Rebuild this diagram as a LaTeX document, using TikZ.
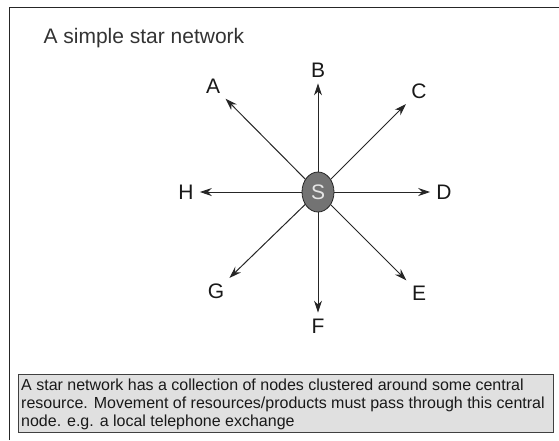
\documentclass[tikz,border=0pt]{standalone}
\usepackage{fontspec}
\setmainfont{Liberation Sans}
\usetikzlibrary{arrows.meta, positioning, shapes.geometric}
\colorlet{FrameLine}{black!85}
\colorlet{HubFill}{black!55}
\colorlet{HubLine}{black!85}
\colorlet{ArrowLine}{black!85}
\colorlet{NoteFill}{black!12}
\colorlet{NoteLine}{black!75}

\begin{document}
\begin{tikzpicture}[
    x=1pt, y=-1pt,
    hub/.style={ellipse, draw=HubLine, fill=HubFill, line width=0.8pt,
        minimum width=32pt, minimum height=40pt, inner sep=0pt,
        text=black!10, font=\fontsize{21}{25}\selectfont},
    leaf/.style={font=\fontsize{21}{25}\selectfont, text=black!90, inner sep=4pt},
    arr/.style={-{Stealth[length=12pt, width=8pt]}, draw=ArrowLine,
        line width=1pt, shorten >=2pt},
]
\useasboundingbox (0,0) rectangle (559,440);

% ===================================================================
% FRAME AND TITLE
% ===================================================================
\draw[FrameLine, line width=1.5pt] (9.5,440) -- (9.5,7.5) -- (559,7.5);
\node[font=\fontsize{21}{25}\selectfont, text=black!80, anchor=west]
    (title) at (40,38) {A simple star network};

% ===================================================================
% STAR
% ===================================================================
\node[hub] (S) at (318,192) {S};

\node[leaf] (A) at (213,86) {A};
\node[leaf] (B) at (318,70) {B};
\node[leaf] (C) at (419,91) {C};
\node[leaf] (D) at (444,192) {D};
\node[leaf] (E) at (419,293) {E};
\node[leaf] (F) at (318,326) {F};
\node[leaf] (G) at (216,291) {G};
\node[leaf] (H) at (186,192) {H};

\foreach \n in {A,B,C,D,E,F,G,H} {
    \draw[arr] (S) -- (\n);
}

% ===================================================================
% NOTE
% ===================================================================
\draw[NoteLine, fill=NoteFill, line width=0.9pt] (18,374) rectangle (553,432);
\node[font=\fontsize{16}{18}\selectfont, text=black!90, align=left,
      anchor=north west, inner sep=0pt] (note) at (21,379) {%
    A star network has a collection of nodes clustered around some central\\
    resource. Movement of resources/products must pass through this central\\
    node. e.g. a local telephone exchange};

\end{tikzpicture}
\end{document}
